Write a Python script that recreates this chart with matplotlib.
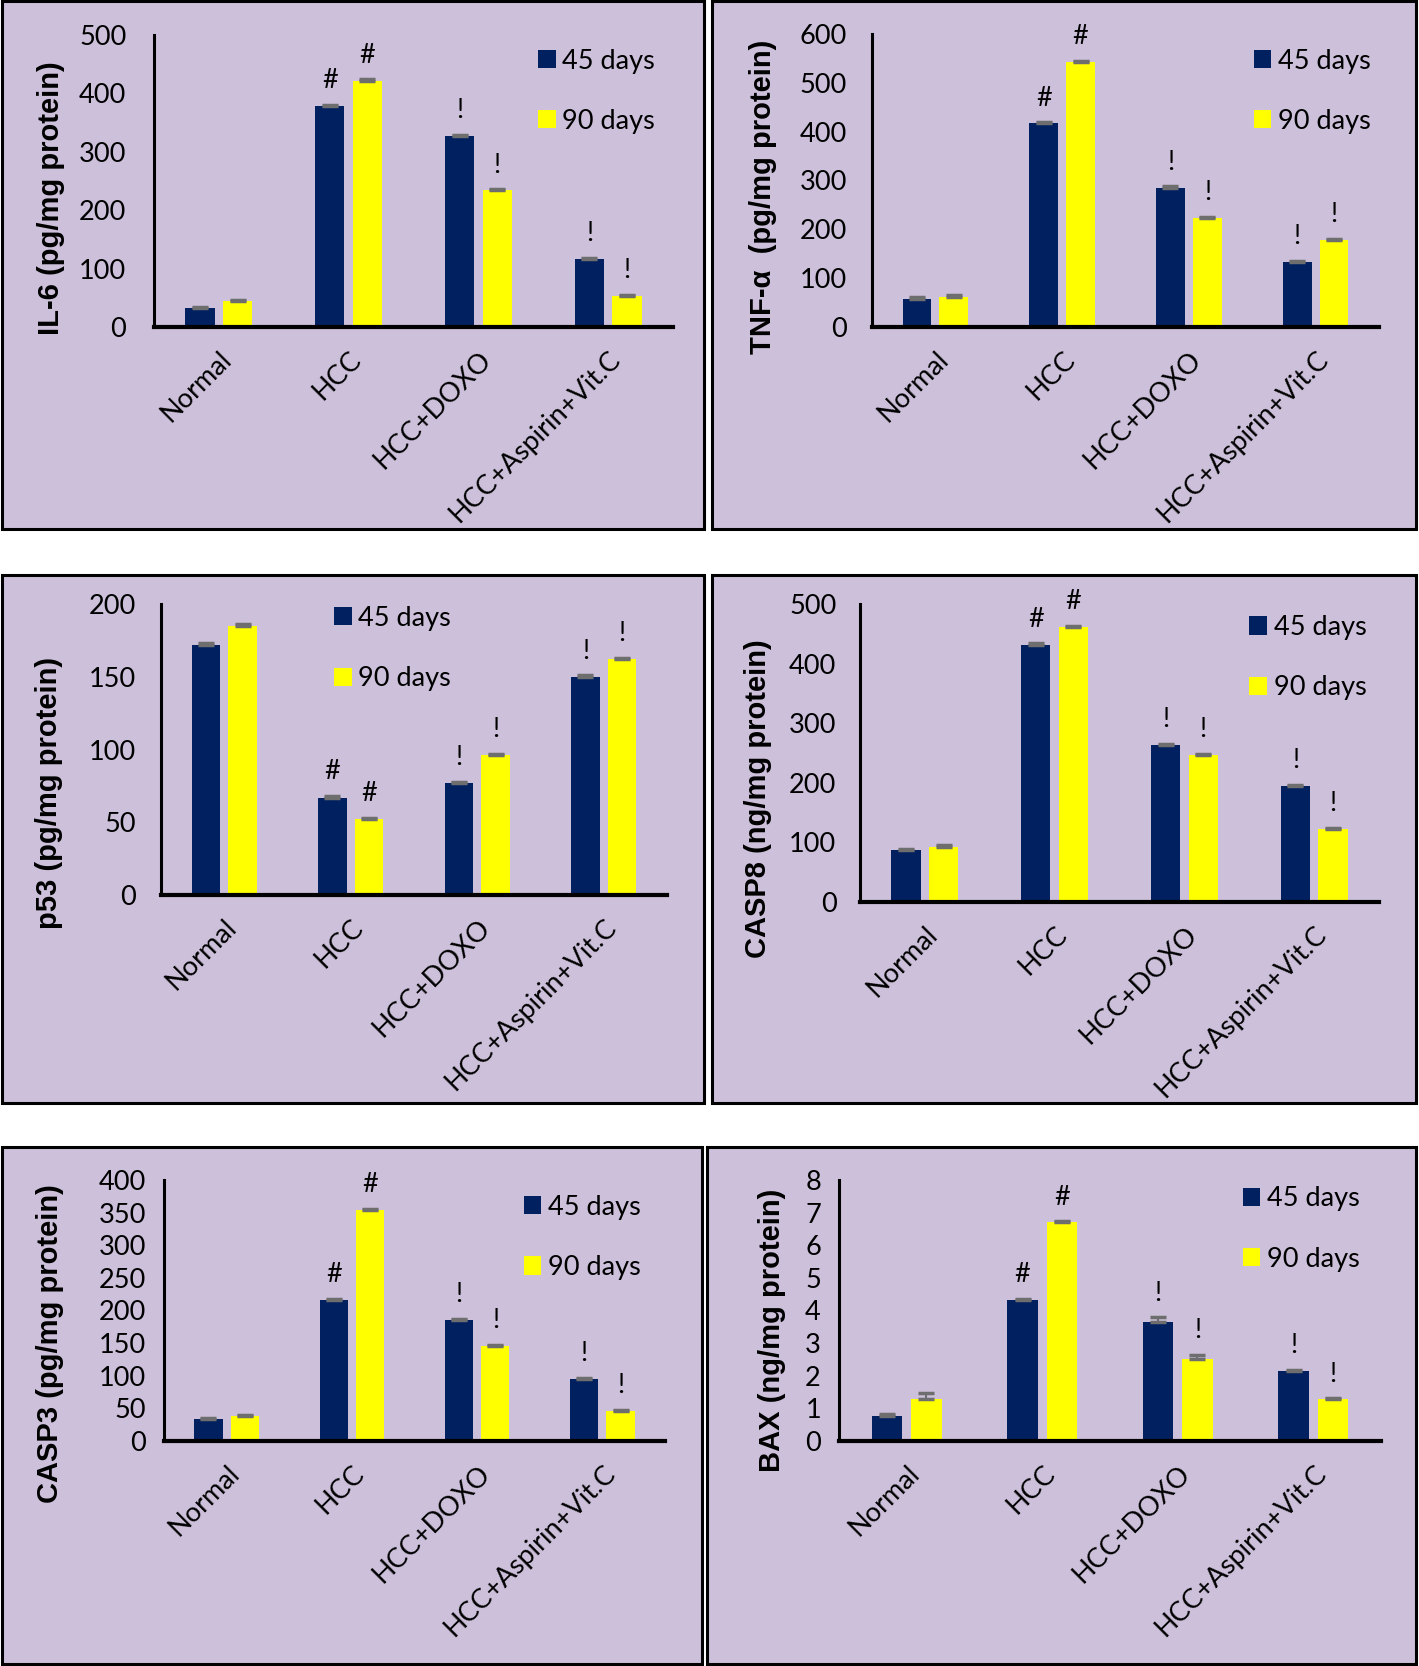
import matplotlib
matplotlib.use("Agg")
import matplotlib.pyplot as plt
from matplotlib.patches import Rectangle
import numpy as np

plt.rcParams['font.family'] = ['Lato', 'Liberation Sans', 'DejaVu Sans']

categories = ["Normal", "HCC", "HCC+DOXO", "HCC+Aspirin+Vit.C"]
series_names = ["45 days", "90 days"]

il6_45 = [33, 378, 327, 116]
il6_90 = [45, 422, 234, 53]
il6_err45 = [2, 2, 2, 2]
il6_err90 = [2, 2, 2, 2]
il6_mark45 = ["", "#", "!", "!"]
il6_mark90 = ["", "#", "!", "!"]

tnf_45 = [58, 417, 285, 133]
tnf_90 = [62, 543, 224, 178]
tnf_err45 = [3, 2, 3, 2]
tnf_err90 = [3, 2, 2, 2]
tnf_mark45 = ["", "#", "!", "!"]
tnf_mark90 = ["", "#", "!", "!"]

p53_45 = [172, 67, 77, 150]
p53_90 = [185, 52, 96, 162]
p53_err45 = [1, 1, 1, 1]
p53_err90 = [1, 1, 1, 1]
p53_mark45 = ["", "#", "!", "!"]
p53_mark90 = ["", "#", "!", "!"]

casp8_45 = [87, 432, 263, 195]
casp8_90 = [93, 461, 247, 122]
casp8_err45 = [2, 2, 2, 2]
casp8_err90 = [2, 2, 2, 2]
casp8_mark45 = ["", "#", "!", "!"]
casp8_mark90 = ["", "#", "!", "!"]

casp3_45 = [33, 216, 185, 95]
casp3_90 = [38, 354, 145, 46]
casp3_err45 = [2, 2, 2, 2]
casp3_err90 = [2, 2, 2, 2]
casp3_mark45 = ["", "#", "!", "!"]
casp3_mark90 = ["", "#", "!", "!"]

bax_45 = [0.78, 4.33, 3.64, 2.15]
bax_90 = [1.30, 6.70, 2.50, 1.28]
bax_err45 = [0.04, 0.03, 0.15, 0.03]
bax_err90 = [0.17, 0.03, 0.14, 0.03]
bax_mark45 = ["", "#", "!", "!"]
bax_mark90 = ["", "#", "!", "!"]

W, H = 1419, 1666
fig = plt.figure(figsize=(W / 100, H / 100), dpi=100)
fig.patch.set_facecolor("white")

BG = "#CCC0DA"
NAVY = "#002060"
YELLOW = "#FFFF00"
ERRC = "#6E6E6E"
FS = 19.5


def frac_rect(x0, y0, x1, y1):
    return [x0 / W, 1 - y1 / H, (x1 - x0) / W, (y1 - y0) / H]


def panel(border, axbox, v45, v90, e45, e90, m45, m90, ymax, ystep, ylabel,
          label_xy, legend_xy, ypad):
    bx = frac_rect(*border)
    fig.patches.append(Rectangle((bx[0], bx[1]), bx[2], bx[3], transform=fig.transFigure,
                                 facecolor=BG, edgecolor="black", linewidth=2.2, zorder=-5))
    ax = fig.add_axes(frac_rect(*axbox))
    ax.set_zorder(2)
    ax.set_facecolor("none")
    x = np.arange(len(categories))
    w = 0.225
    off = 0.145
    ax.bar(x - off, v45, w, color=NAVY, label=series_names[0], zorder=2)
    ax.bar(x + off, v90, w, color=YELLOW, label=series_names[1], zorder=2)
    ax.errorbar(x - off, v45, yerr=[np.zeros(len(x)), e45], fmt="none", ecolor=ERRC,
                elinewidth=1.5, capsize=6, capthick=2.5, zorder=3)
    ax.errorbar(x + off, v90, yerr=[np.zeros(len(x)), e90], fmt="none", ecolor=ERRC,
                elinewidth=1.5, capsize=6, capthick=2.5, zorder=3)
    for xi, v, e, m in zip(x - off, v45, e45, m45):
        if m:
            ax.annotate(m, (xi, v + e), xytext=(0, 12), textcoords="offset points",
                        ha="center", va="baseline", fontsize=FS)
    for xi, v, e, m in zip(x + off, v90, e90, m90):
        if m:
            ax.annotate(m, (xi, v + e), xytext=(0, 12), textcoords="offset points",
                        ha="center", va="baseline", fontsize=FS)
    ax.set_xlim(-0.5, len(categories) - 0.5)
    ax.set_ylim(0, ymax)
    ax.set_yticks(np.arange(0, ymax + ystep / 2, ystep))
    ax.set_xticks(x)
    ax.set_xticklabels(categories, rotation=45, ha="right", va="top",
                       rotation_mode="anchor", fontsize=FS)
    ax.tick_params(axis="x", length=0, pad=14)
    ax.tick_params(axis="y", length=0, pad=ypad, labelsize=FS)
    for s in ("top", "right"):
        ax.spines[s].set_visible(False)
    ax.spines["left"].set_linewidth(2.2)
    ax.spines["bottom"].set_linewidth(3)
    ax.set_ylabel(ylabel, fontsize=21, fontweight="bold",
                  family=["Liberation Sans", "DejaVu Sans"])
    ax.yaxis.set_label_coords(*label_xy)
    ax.legend(loc="center left", bbox_to_anchor=legend_xy, frameon=False,
              fontsize=FS, handlelength=0.65, handleheight=0.65,
              handletextpad=0.25, labelspacing=1.3, borderpad=0, borderaxespad=0)
    return ax


panel((2, 1, 704, 529), (154, 35, 673, 327), il6_45, il6_90, il6_err45, il6_err90,
      il6_mark45, il6_mark90, 500, 100, "IL-6 (pg/mg protein)", (-0.172, 0.44), (0.74, 0.807), 20)
panel((712, 1, 1416, 529), (872, 34, 1379, 327), tnf_45, tnf_90, tnf_err45, tnf_err90,
      tnf_mark45, tnf_mark90, 600, 100, "TNF-α  (pg/mg protein)", (-0.187, 0.446), (0.753, 0.805), 18)
panel((2, 575, 704, 1103), (161, 604, 667, 895), p53_45, p53_90, p53_err45, p53_err90,
      p53_mark45, p53_mark90, 200, 50, "p53 (pg/mg protein)", (-0.194, 0.35), (0.342, 0.847), 18)
panel((712, 575, 1416, 1103), (860, 604, 1379, 902), casp8_45, casp8_90, casp8_err45, casp8_err90,
      casp8_mark45, casp8_mark90, 500, 100, "CASP8 (ng/mg protein)", (-0.17, 0.346), (0.75, 0.82), 17)
panel((2, 1147, 702, 1664), (164, 1180, 665, 1441), casp3_45, casp3_90, casp3_err45, casp3_err90,
      casp3_mark45, casp3_mark90, 400, 50, "CASP3 (pg/mg protein)", (-0.199, 0.374), (0.718, 0.78), 13)
panel((707, 1147, 1416, 1664), (839, 1180, 1381, 1441), bax_45, bax_90, bax_err45, bax_err90,
      bax_mark45, bax_mark90, 8, 1, "BAX (ng/mg protein)", (-0.098, 0.423), (0.745, 0.812), 13)

fig.savefig("out.png", dpi=100, facecolor="white")
